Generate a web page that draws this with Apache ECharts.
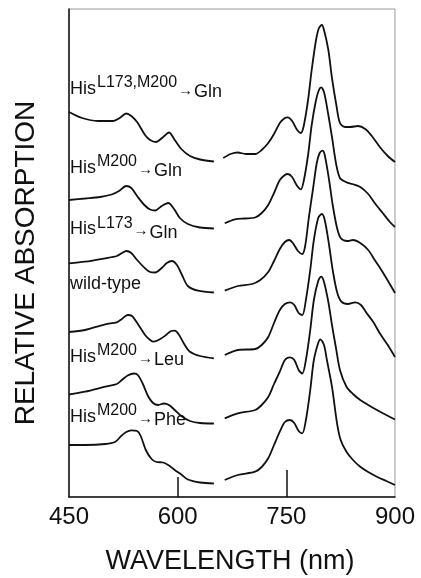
<!DOCTYPE html>
<html>
<head>
<meta charset="utf-8">
<script src="https://cdn.jsdelivr.net/npm/echarts@6/dist/echarts.min.js"></script>
<style>
  html, body { margin: 0; padding: 0; background: #fff; }
  #chart { width: 421px; height: 578px; }
</style>
</head>
<body>
<div id="chart"></div>
<script>
// wavelength (nm) vs relative absorption (arbitrary, stacked); null = gap in the record
const specL173M200Gln = [
  [450, 385], [468, 379], [490, 376], [511, 376], [520, 379], [529, 383.5], [536, 381], [544, 375],
  [555, 362], [562, 357], [570, 355], [580, 360], [588, 364.5], [596, 357], [605, 348], [617, 341],
  [631, 337.5], [650, 335.5], [657, null],
  [663, 339], [673, 343], [683, 344.5], [694, 343], [707, 343], [716, 347], [725, 354], [733, 363],
  [741, 374], [748, 379], [752, 379.7], [758, 376], [765, 367], [770, 364], [774, 371], [780, 397],
  [785, 427], [791, 457], [795, 469], [799, 472], [802, 467], [808, 447], [813, 419], [819, 392],
  [824, 374], [831, 370], [838, 370], [849, 371], [859, 368], [868, 361], [879, 350], [890, 341], [900, 335]
]
const specM200Gln = [
  [450, 297], [472, 298.5], [493, 300], [509, 302.5], [519, 306], [529, 311], [536, 309], [544, 301],
  [554, 292], [562, 287.5], [569, 286.5], [578, 291], [587, 294], [595, 288], [603, 279], [614, 273],
  [631, 269.5], [650, 268.5], [657, null],
  [665, 273.7], [679, 277.7], [693, 278.5], [707, 279.5], [716, 284], [725, 292], [733, 304], [741, 317],
  [748, 322], [752, 323], [758, 320], [765, 311], [770, 307.7], [774, 316], [780, 342], [785, 372],
  [791, 397], [795, 407], [798, 409.7], [802, 405], [808, 382], [813, 360], [819, 332], [824, 319],
  [832, 315], [841, 313], [852, 310], [863, 303], [872, 294], [883, 284], [893, 275], [900, 270]
]
const specL173Gln = [
  [450, 233.7], [472, 235.3], [500, 238.7], [516, 241], [523, 244], [529, 246], [536, 244], [544, 237],
  [555, 228.7], [562, 225], [569, 224.5], [578, 229], [585, 234], [592, 236], [599, 232], [606, 222],
  [614, 211], [628, 206.3], [650, 204.5], [657, null],
  [665, 206.3], [683, 211], [703, 213], [714, 217], [725, 225], [733, 236], [741, 248], [748, 255],
  [754, 257], [759, 254], [766, 246], [772, 243], [776, 251], [781, 279], [787, 309], [792, 334],
  [796, 344], [800, 346.3], [803, 342], [809, 317], [814, 292], [820, 269], [825, 259], [834, 256],
  [842, 257], [852, 254], [863, 247], [872, 237], [882, 226], [892, 214], [900, 204]
]
const specWildType = [
  [450, 165], [472, 167], [500, 172.7], [516, 174.7], [523, 178], [531, 182], [537, 181], [545, 173],
  [555, 162], [562, 157], [567, 155.3], [576, 158], [584, 162], [591, 166], [596, 166.3], [602, 162],
  [609, 153], [617, 145.3], [631, 141], [650, 138.7], [657, null],
  [665, 142], [683, 147], [707, 148], [716, 152], [725, 160], [733, 174], [741, 187], [748, 193],
  [755, 194.7], [761, 192], [767, 184], [772, 182], [777, 197], [783, 227], [788, 257], [794, 279],
  [799, 283], [803, 277], [809, 252], [814, 227], [820, 205], [826, 195.3], [835, 193], [845, 194.7],
  [853, 192], [861, 183.7], [870, 175], [879, 163.7], [890, 152], [900, 140]
]
const specM200Leu = [
  [450, 102.5], [472, 105.3], [500, 110.3], [516, 113], [523, 117], [531, 121.5], [540, 123.5], [545, 122],
  [552, 113], [559, 101], [566, 94], [573, 92], [581, 93.5], [588, 92], [596, 87], [606, 80.5],
  [617, 76], [631, 74], [650, 73.5], [657, null],
  [665, 78.7], [683, 83.7], [707, 87], [716, 92], [725, 100], [733, 113], [741, 125.3], [748, 137],
  [755, 139.7], [761, 137], [767, 127], [772, 123.5], [777, 137], [783, 167], [788, 197], [794, 216],
  [798, 220.3], [802, 215], [808, 195], [813, 172], [819, 147], [824, 127], [833, 110.3], [842, 103],
  [852, 97], [863, 92], [875, 87], [888, 82], [900, 77.5]
]
const specM200Phe = [
  [450, 52], [472, 52], [500, 53], [514, 55.3], [522, 61], [529, 65], [536, 66.7], [544, 66],
  [549, 61], [556, 47], [564, 38], [571, 35], [580, 34.5], [588, 31.5], [596, 27], [605, 22.5],
  [614, 17.5], [631, 14.5], [650, 13.5], [657, null],
  [665, 17], [683, 22], [707, 25.3], [716, 30], [725, 38.7], [733, 52], [741, 65.3], [748, 75],
  [755, 77], [761, 74], [767, 66], [772, 63.7], [777, 77], [783, 107], [788, 137], [794, 154],
  [797, 157.7], [802, 152], [806, 137], [813, 110.3], [820, 73.7], [825, 57], [833, 45.3], [842, 37],
  [852, 30.3], [863, 25], [875, 20.3], [888, 16], [900, 12]
]

const spectra = [specL173M200Gln, specM200Gln, specL173Gln, specWildType, specM200Leu, specM200Phe]

// curve labels: main text, superscript, subscript after the arrow
const labelMain = ['His', 'His', 'His', 'wild-type', 'His', 'His']
const labelSup = ['L173,M200', 'M200', 'L173', '', 'M200', 'M200']
const labelSub = ['Gln', 'Gln', 'Gln', '', 'Leu', 'Phe']

const xTickLabels = [450, 600, 750, 900]

const FONT = 'Liberation Sans, Arial, Helvetica, sans-serif'
const labelBaselines = [97, 176, 237.5, 297, 365, 425]

const chart = echarts.init(document.getElementById('chart'))

function curveLabel(i) {
  let text = '{b|' + labelMain[i] + '}'
  if (labelSup[i]) text += '{sup|' + labelSup[i] + '}{arr|\u2192}{sub|' + labelSub[i] + '}'
  return {
    type: 'text',
    left: 70,
    top: labelBaselines[i] - 22,
    silent: true,
    style: {
      text: text,
      fontFamily: FONT,
      fill: '#111',
      rich: {
        b: { fontSize: 18, fontFamily: FONT, fill: '#111' },
        sup: { fontSize: 16, fontFamily: FONT, fill: '#111', padding: [0, 0, 12, 1] },
        arr: { fontSize: 15, fontFamily: FONT, fill: '#111', padding: [3, 0, 0, 1] },
        sub: { fontSize: 18, fontFamily: FONT, fill: '#111', padding: [7, 0, 0, 1] }
      }
    }
  }
}

const hiddenAxis = {
  type: 'value', min: 450, max: 900, position: 'bottom',
  axisLine: { show: false }, axisLabel: { show: false }, splitLine: { show: false }
}

chart.setOption({
  animation: false,
  backgroundColor: '#fff',
  grid: { left: 69, right: 26, top: 9, bottom: 81, show: true, borderColor: '#9a9a9a', borderWidth: 1 },
  xAxis: [
    {
      type: 'value',
      min: 450,
      max: 900,
      interval: 150,
      axisLine: { lineStyle: { color: '#111', width: 1.5 } },
      axisTick: { show: false },
      splitLine: { show: false },
      axisLabel: {
        customValues: xTickLabels,
        color: '#111', fontSize: 24, fontFamily: FONT, margin: 8,
        showMinLabel: true, showMaxLabel: true
      }
    },
    // the two inner ticks have different lengths
    { ...hiddenAxis, axisTick: { show: true, inside: true, length: 20, customValues: [600], lineStyle: { color: '#111', width: 1.5 } } },
    { ...hiddenAxis, axisTick: { show: true, inside: true, length: 27, customValues: [750], lineStyle: { color: '#111', width: 1.5 } } }
  ],
  yAxis: {
    type: 'value',
    min: 0,
    max: 488,
    axisLine: { show: true, lineStyle: { color: '#111', width: 1.5 } },
    axisTick: { show: false },
    axisLabel: { show: false },
    splitLine: { show: false }
  },
  series: spectra.map((d, i) => ({
    name: labelMain[i] + labelSup[i] + labelSub[i],
    type: 'line',
    data: d,
    smooth: 0.3,
    showSymbol: false,
    connectNulls: false,
    lineStyle: { color: '#111', width: 1.8 },
    z: 3
  })),
  graphic: [
    ...labelMain.map((_, i) => curveLabel(i)),
    {
      type: 'text', x: 26, y: 263, rotation: Math.PI / 2, silent: true,
      style: { text: 'RELATIVE ABSORPTION', fontSize: 28, fontFamily: FONT, fill: '#111', align: 'center', verticalAlign: 'middle' }
    },
    {
      type: 'text', x: 230, y: 562, silent: true,
      style: { text: 'WAVELENGTH (nm)', fontSize: 27, fontFamily: FONT, fill: '#111', align: 'center', verticalAlign: 'middle' }
    }
  ]
})
</script>
</body>
</html>
